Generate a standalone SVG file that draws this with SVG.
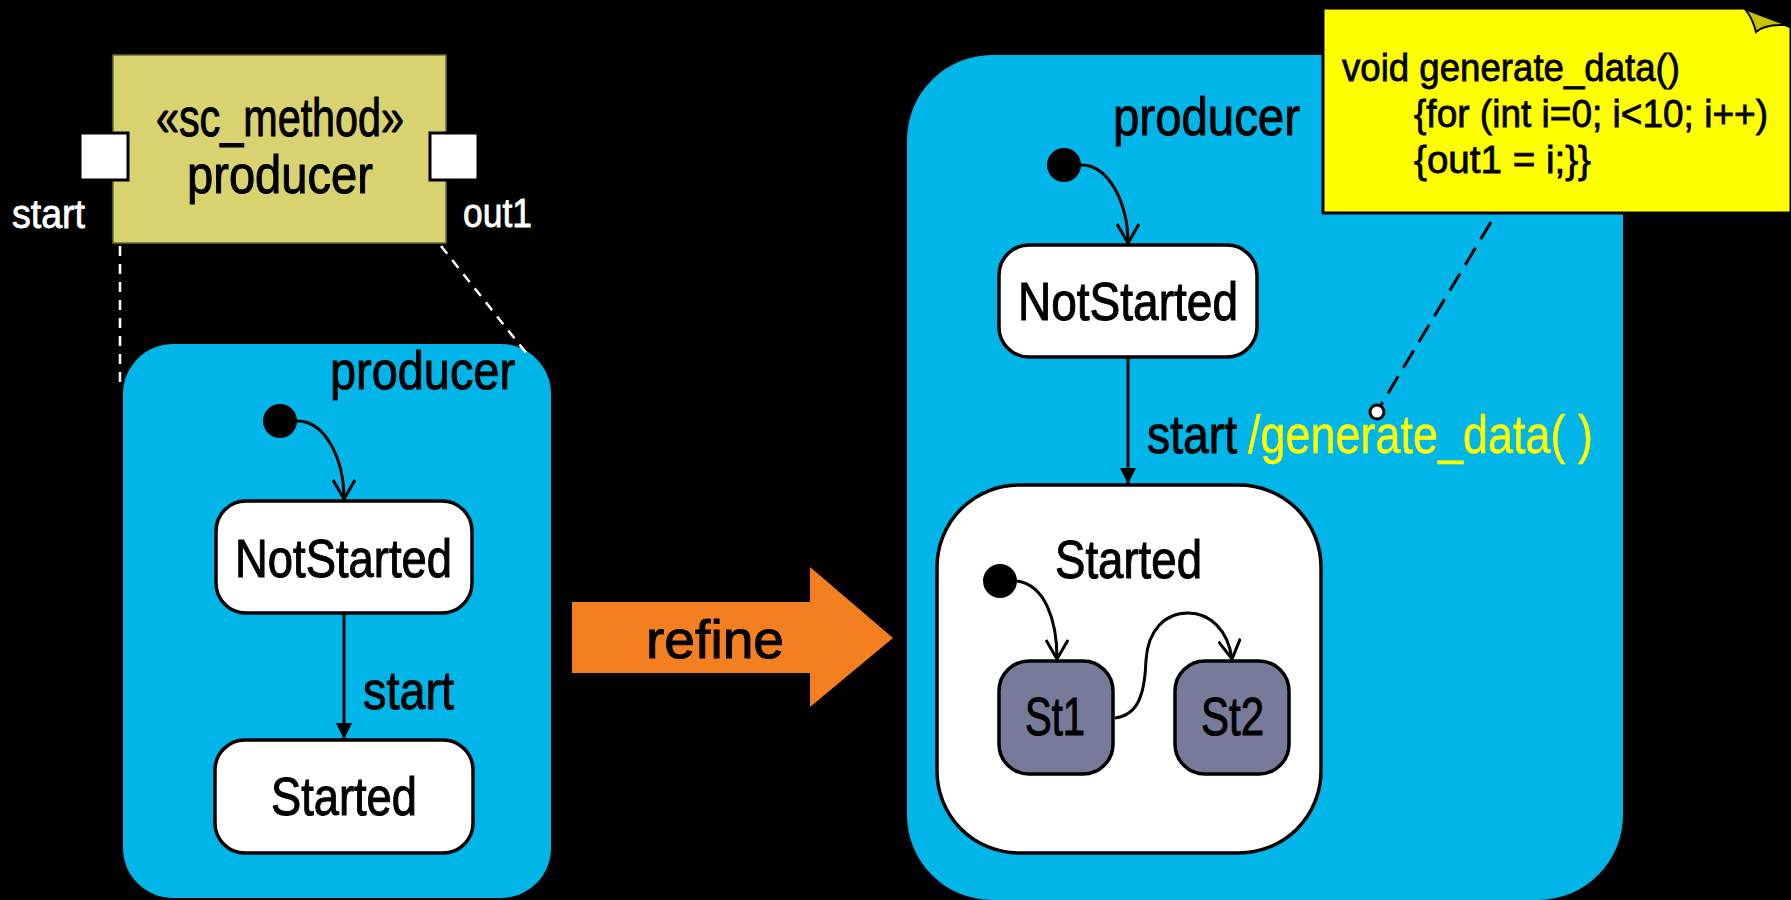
<svg xmlns="http://www.w3.org/2000/svg" width="1791" height="900" viewBox="0 0 1791 900">
  <defs>
    <style>
      text { font-family: "Liberation Sans Narrow", "Liberation Sans", Arial, sans-serif; fill: #000; stroke: #000; stroke-width: 1; paint-order: stroke; }
      .big { font-size: 53px; }
      .port-label { font-size: 40px; fill: #fff; stroke: #fff; stroke-width: 0.8; }
      .note-text { font-size: 39px; stroke-width: 0.8; }
      .action { font-size: 53px; fill: #ffff00; stroke: #ffff00; stroke-width: 0.4; }
      .region { fill: #00b5e8; }
      .state { fill: #fff; stroke: #000; stroke-width: 3.5; }
      .substate { fill: #777a99; stroke: #000; stroke-width: 3.5; }
      .initial { fill: #000; }
      .trans { fill: none; stroke: #000; stroke-width: 3; }
      .trace { fill: none; stroke: #fff; stroke-width: 2.5; stroke-dasharray: 10 8; }
      .anchor { fill: none; stroke: #000; stroke-width: 3; stroke-dasharray: 20 10; }
      .port { fill: #fff; stroke: #000; stroke-width: 3; }
    </style>
    <marker id="vee" viewBox="0 0 22 24" refX="20" refY="12" markerWidth="22" markerHeight="24" markerUnits="userSpaceOnUse" orient="auto">
      <path d="M1,1 L20,12 L1,23" fill="none" stroke="#000" stroke-width="3"/>
    </marker>
    <marker id="tri" viewBox="0 0 16 16" refX="16" refY="8" markerWidth="16" markerHeight="16" markerUnits="userSpaceOnUse" orient="auto">
      <path d="M0,0 L16,8 L0,16 Z" fill="#000"/>
    </marker>
  </defs>

  <rect width="1791" height="900" fill="#000"/>

  <!-- sc_method component with its two ports -->
  <g id="component-producer">
    <rect x="113" y="55" width="333" height="188" fill="#d8d271" stroke="#6e6a2a" stroke-width="1.5"/>
    <text class="big" x="156" y="136" textLength="248" lengthAdjust="spacingAndGlyphs">«sc_method»</text>
    <text class="big" x="187" y="193" textLength="186" lengthAdjust="spacingAndGlyphs">producer</text>
  </g>
  <g id="port-start">
    <rect class="port" x="80" y="133" width="48" height="47"/>
    <text class="port-label" x="12" y="228" textLength="73" lengthAdjust="spacingAndGlyphs">start</text>
  </g>
  <g id="port-out1">
    <rect class="port" x="430" y="133" width="48" height="47"/>
    <text class="port-label" x="463" y="227" textLength="69" lengthAdjust="spacingAndGlyphs">out1</text>
  </g>

  <!-- simple state machine of the component -->
  <g id="sm-producer">
    <rect class="region" x="123" y="344" width="428" height="554" rx="50"/>
    <text class="big" x="330" y="389" textLength="185" lengthAdjust="spacingAndGlyphs">producer</text>
  </g>
  <g id="sm-initial">
    <circle class="initial" cx="280" cy="421" r="17"/>
  </g>
  <g id="sm-notstarted">
    <rect class="state" x="216" y="501" width="256" height="112" rx="30"/>
    <text class="big" x="235" y="577" textLength="217" lengthAdjust="spacingAndGlyphs">NotStarted</text>
  </g>
  <g id="sm-started">
    <rect class="state" x="215" y="740" width="258" height="113" rx="30"/>
    <text class="big" x="271" y="815" textLength="146" lengthAdjust="spacingAndGlyphs">Started</text>
  </g>

  <!-- refinement arrow -->
  <g id="refine-arrow">
    <polygon points="572,602 810,602 810,567 893,638 810,707 810,673 572,673" fill="#f37f21"/>
    <text class="big" x="646" y="658" textLength="138" lengthAdjust="spacingAndGlyphs">refine</text>
  </g>

  <!-- refined state machine -->
  <g id="rsm-producer">
    <rect class="region" x="907" y="55" width="716" height="845" rx="85"/>
    <text class="big" x="1113" y="135" textLength="187" lengthAdjust="spacingAndGlyphs">producer</text>
  </g>
  <g id="rsm-initial">
    <circle class="initial" cx="1064" cy="165" r="17"/>
  </g>
  <g id="rsm-notstarted">
    <rect class="state" x="999" y="245" width="258" height="112" rx="30"/>
    <text class="big" x="1018" y="320" textLength="220" lengthAdjust="spacingAndGlyphs">NotStarted</text>
  </g>
  <g id="rsm-started">
    <rect class="state" x="937" y="485" width="384" height="368" rx="82"/>
    <text class="big" x="1055" y="578" textLength="147" lengthAdjust="spacingAndGlyphs">Started</text>
  </g>
  <g id="rsm-inner-initial">
    <circle class="initial" cx="1000" cy="581" r="17"/>
  </g>
  <g id="rsm-st1">
    <rect class="substate" x="999" y="661" width="114" height="113" rx="30"/>
    <text class="big" x="1025" y="735" textLength="60" lengthAdjust="spacingAndGlyphs">St1</text>
  </g>
  <g id="rsm-st2">
    <rect class="substate" x="1175" y="661" width="114" height="113" rx="30"/>
    <text class="big" x="1201" y="735" textLength="63" lengthAdjust="spacingAndGlyphs">St2</text>
  </g>

  <!-- code note attached to the transition effect -->
  <g id="note-generate-data">
    <path d="M1323,8 H1745 L1791,27 V213 H1323 Z" fill="#ffff00" stroke="#000" stroke-width="3"/>
    <path d="M1745,9 L1787,25 Q1764,24 1756,32 Q1753,19 1745,9 Z" fill="#c9c400" stroke="#000" stroke-width="2"/>
    <text class="note-text" x="1342" y="81" textLength="338" lengthAdjust="spacingAndGlyphs">void generate_data()</text>
    <text class="note-text" x="1414" y="127" textLength="354" lengthAdjust="spacingAndGlyphs">{for (int i=0; i&lt;10; i++)</text>
    <text class="note-text" x="1414" y="173" textLength="177" lengthAdjust="spacingAndGlyphs">{out1 = i;}}</text>
  </g>

  <!-- connectors -->
  <g id="connectors">
    <line class="trace" x1="120" y1="246" x2="120" y2="386"/>
    <line class="trace" x1="441" y1="246" x2="527" y2="354"/>

    <path class="trans" d="M297,421 C326,421 344,460 344,499" marker-end="url(#vee)"/>
    <line class="trans" x1="344" y1="613" x2="344" y2="739" marker-end="url(#tri)"/>
    <text class="big" x="363" y="709" textLength="91" lengthAdjust="spacingAndGlyphs">start</text>

    <path class="trans" d="M1081,165 C1110,165 1128,205 1128,243" marker-end="url(#vee)"/>
    <line class="trans" x1="1128" y1="357" x2="1128" y2="484" marker-end="url(#tri)"/>
    <text class="big" x="1147" y="453" textLength="90" lengthAdjust="spacingAndGlyphs">start</text>
    <text class="action" x="1248" y="453" textLength="345" lengthAdjust="spacingAndGlyphs">/generate_data( )</text>

    <path class="trans" d="M1017,581 C1045,585 1057,620 1057,659" marker-end="url(#vee)"/>
    <path class="trans" d="M1115,718 C1140,715 1145,690 1146,660 C1148,630 1165,613 1188,613 C1210,613 1228,630 1232,659" marker-end="url(#vee)"/>

    <line class="anchor" x1="1491" y1="222" x2="1381" y2="405"/>
    <circle cx="1377" cy="412" r="7" fill="#fff" stroke="#000" stroke-width="3"/>
  </g>
</svg>
